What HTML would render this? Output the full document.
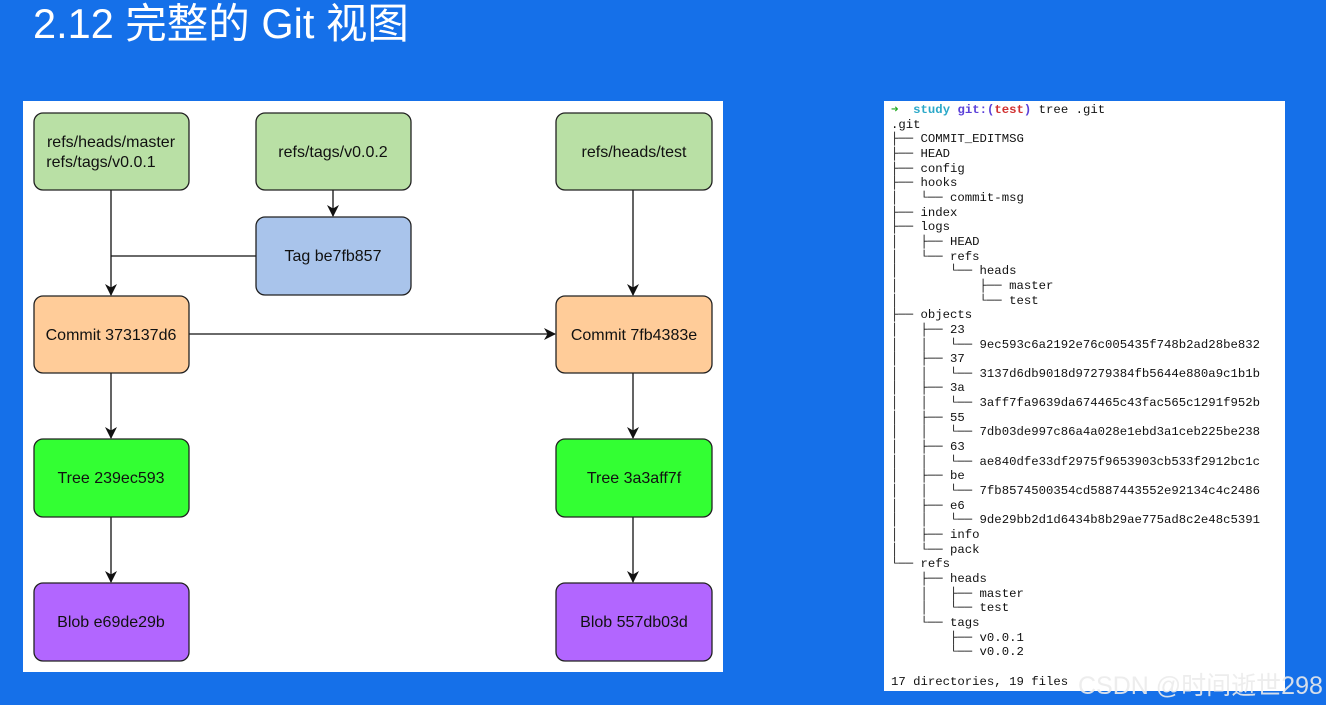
<!DOCTYPE html>
<html><head><meta charset="utf-8"><style>
body{margin:0;width:1326px;height:705px;background:#1570e9;overflow:hidden;position:relative;font-family:"Liberation Sans","Noto Sans CJK SC",sans-serif}
.t{position:absolute;left:33px;top:-10px;color:#fff;font-size:41.5px;white-space:nowrap}
#term{position:absolute;left:884px;top:101px;width:401px;height:590px;background:#fff}
pre{margin:0;position:absolute;left:7px;top:2px;font-family:"Liberation Mono","DejaVu Sans Mono",monospace;font-size:12.3px;line-height:14.65px;color:#111}
.csdn{position:absolute;left:1078px;top:666px;font-size:25px;color:rgba(235,235,235,.9);white-space:nowrap}
</style></head><body>
<div class="t">2.12 完整的 Git 视图</div>
<svg style="position:absolute;left:0;top:0" width="1326" height="705">
<defs><marker id="a" markerWidth="12" markerHeight="12" refX="11" refY="6" orient="auto" markerUnits="userSpaceOnUse"><path d="M0,0 L12,6 L0,12 L3.5,6z" fill="#111"/></marker></defs>
<rect x="23" y="101" width="700" height="571" fill="#fff"/>
<g stroke="#111" stroke-width="1.3" fill="none">
<path d="M111,190 V295" marker-end="url(#a)"/>
<path d="M256,256 H111"/>
<path d="M333,190 V216" marker-end="url(#a)"/>
<path d="M633,190 V295" marker-end="url(#a)"/>
<path d="M189,334 H555" marker-end="url(#a)"/>
<path d="M111,373 V438" marker-end="url(#a)"/>
<path d="M111,517 V582" marker-end="url(#a)"/>
<path d="M633,373 V438" marker-end="url(#a)"/>
<path d="M633,517 V582" marker-end="url(#a)"/>
</g>
<g stroke="#222" stroke-width="1.3">
<rect x="34" y="113" width="155" height="77" rx="9" fill="#b9e0a5"/>
<rect x="256" y="113" width="155" height="77" rx="9" fill="#b9e0a5"/>
<rect x="556" y="113" width="156" height="77" rx="9" fill="#b9e0a5"/>
<rect x="256" y="217" width="155" height="78" rx="9" fill="#a9c4eb"/>
<rect x="34" y="296" width="155" height="77" rx="9" fill="#ffcc99"/>
<rect x="556" y="296" width="156" height="77" rx="9" fill="#ffcc99"/>
<rect x="34" y="439" width="155" height="78" rx="9" fill="#33ff33"/>
<rect x="556" y="439" width="156" height="78" rx="9" fill="#33ff33"/>
<rect x="34" y="583" width="155" height="78" rx="9" fill="#b266ff"/>
<rect x="556" y="583" width="156" height="78" rx="9" fill="#b266ff"/>
</g>
<g font-family="Liberation Sans,sans-serif" font-size="16" fill="#111" text-anchor="middle">
<text x="111" y="147">refs/heads/master</text>
<text x="101" y="167">refs/tags/v0.0.1</text>
<text x="333" y="157">refs/tags/v0.0.2</text>
<text x="634" y="157">refs/heads/test</text>
<text x="333" y="261">Tag be7fb857</text>
<text x="111" y="340">Commit 373137d6</text>
<text x="634" y="340">Commit 7fb4383e</text>
<text x="111" y="483">Tree 239ec593</text>
<text x="634" y="483">Tree 3a3aff7f</text>
<text x="111" y="627">Blob e69de29b</text>
<text x="634" y="627">Blob 557db03d</text>
</g>
</svg>
<div id="term"><pre><b style="color:#2a2">➜</b>  <b style="color:#2aa8c8">study</b> <b style="color:#5a3fd8">git:(<span style="color:#d03030">test</span>)</b> tree .git
.git
├── COMMIT_EDITMSG
├── HEAD
├── config
├── hooks
│   └── commit-msg
├── index
├── logs
│   ├── HEAD
│   └── refs
│       └── heads
│           ├── master
│           └── test
├── objects
│   ├── 23
│   │   └── 9ec593c6a2192e76c005435f748b2ad28be832
│   ├── 37
│   │   └── 3137d6db9018d97279384fb5644e880a9c1b1b
│   ├── 3a
│   │   └── 3aff7fa9639da674465c43fac565c1291f952b
│   ├── 55
│   │   └── 7db03de997c86a4a028e1ebd3a1ceb225be238
│   ├── 63
│   │   └── ae840dfe33df2975f9653903cb533f2912bc1c
│   ├── be
│   │   └── 7fb8574500354cd5887443552e92134c4c2486
│   ├── e6
│   │   └── 9de29bb2d1d6434b8b29ae775ad8c2e48c5391
│   ├── info
│   └── pack
└── refs
    ├── heads
    │   ├── master
    │   └── test
    └── tags
        ├── v0.0.1
        └── v0.0.2

17 directories, 19 files</pre></div>
<div class="csdn">CSDN @时间逝世298</div>
</body></html>
